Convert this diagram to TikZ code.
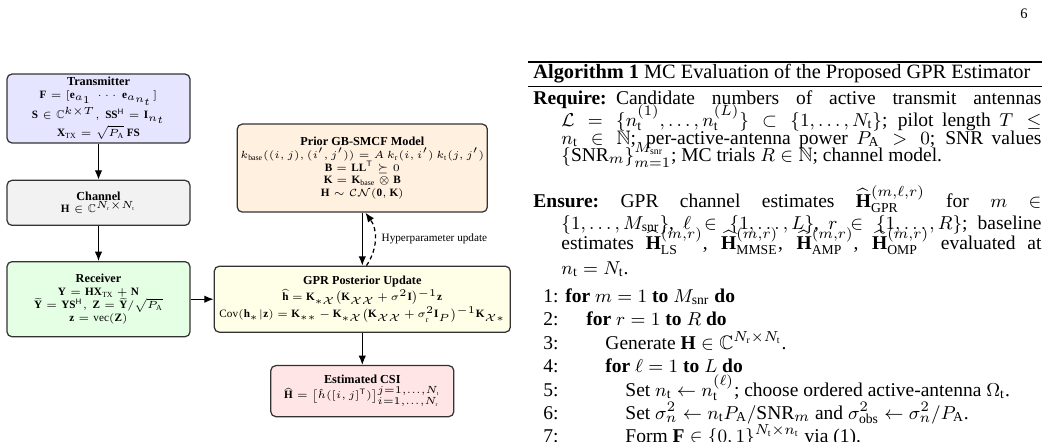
\documentclass[tikz,border=0pt]{standalone}
\usepackage{amsmath}
\usepackage{amssymb}
\usepackage{fontspec}
\setmainfont{Liberation Serif}
\usetikzlibrary{arrows.meta,positioning}

\newcommand{\blocktitle}[1]{{\fontsize{5.9}{6.4}\selectfont\textbf{#1}}}

\begin{document}
\begin{tikzpicture}[x=0.482pt, y=-0.482pt,
  block/.style={draw=black!80, line width=0.6pt, rounded corners=2.4pt, align=center, inner sep=1.5pt, font=\fontsize{5.4}{6.2}\selectfont},
  arrow/.style={-{Latex[length=4.5pt,width=3.6pt]}, line width=0.6pt},
  fbarrow/.style={-{Latex[length=4.5pt,width=3.6pt]}, line width=0.6pt, dash pattern=on 2pt off 1.5pt},
  algtext/.style={anchor=base west, inner sep=0pt, font=\fontsize{9.4}{11}\selectfont}
]
\useasboundingbox (0,0) rectangle (1042,441);
\clip (0,0) rectangle (1042,441);

% system chain
\node[block, fill=blue!10, minimum width=88.2pt, minimum height=32.3pt] (tx) at (98.5,108.5)
  {\blocktitle{Transmitter}\\ $\mathbf{F}=[\mathbf{e}_{a_1}\ \cdots\ \mathbf{e}_{a_{n_t}}]$\\
   $\mathbf{S}\in\mathbb{C}^{k\times T},\ \mathbf{S}\mathbf{S}^{\mathsf{H}}=\mathbf{I}_{n_t}$\\
   $\mathbf{X}_{\mathrm{TX}}=\sqrt{P_{\mathrm{A}}}\,\mathbf{F}\mathbf{S}$};
\node[block, fill=gray!10, minimum width=88.2pt, minimum height=21.7pt, below=17.4pt of tx] (ch)
  {\blocktitle{Channel}\\ $\mathbf{H}\in\mathbb{C}^{N_{\mathrm{r}}\times N_{\mathrm{t}}}$};
\node[block, fill=green!10, minimum width=88.2pt, minimum height=36.2pt, below=16.9pt of ch] (rx)
  {\blocktitle{Receiver}\\ $\mathbf{Y}=\mathbf{H}\mathbf{X}_{\mathrm{TX}}+\mathbf{N}$\\
   $\widetilde{\mathbf{Y}}=\mathbf{Y}\mathbf{S}^{\mathsf{H}},\ \mathbf{Z}=\widetilde{\mathbf{Y}}/\sqrt{P_{\mathrm{A}}}$\\
   $\mathbf{z}=\mathrm{vec}(\mathbf{Z})$};

% GPR part
\node[block, fill=yellow!10, minimum width=142.7pt, minimum height=31.8pt, right=11.1pt of rx,
      execute at begin node={\medmuskip=3mu\thickmuskip=4mu}] (post)
  {\blocktitle{GPR Posterior Update}\\
   $\widehat{\mathbf{h}}=\mathbf{K}_{*\mathcal{X}}\big(\mathbf{K}_{\mathcal{X}\mathcal{X}}+\sigma^2\mathbf{I}\big)^{-1}\mathbf{z}$\\
   $\mathrm{Cov}(\mathbf{h}_*|\mathbf{z})=\mathbf{K}_{**}-\mathbf{K}_{*\mathcal{X}}\big(\mathbf{K}_{\mathcal{X}\mathcal{X}}+\sigma_{\mathrm{r}}^2\mathbf{I}_P\big)^{-1}\mathbf{K}_{\mathcal{X}*}$};
\node[block, fill=orange!12, minimum width=116.2pt, minimum height=42.4pt, above=25.5pt of post] (prior)
  {\blocktitle{Prior GB-SMCF Model}\\
   $k_{\mathrm{base}}((i,j),(i',j'))=A\,k_{\mathrm{r}}(i,i')\,k_{\mathrm{t}}(j,j')$\\
   $\mathbf{B}=\mathbf{L}\mathbf{L}^{\mathsf{T}}\succeq 0$\\
   $\mathbf{K}=\mathbf{K}_{\mathrm{base}}\otimes\mathbf{B}$\\
   $\mathbf{H}\sim\mathcal{CN}(\mathbf{0},\mathbf{K})$};
\node[block, fill=red!10, minimum width=88.2pt, minimum height=24.6pt, below=15.5pt of post] (csi)
  {\blocktitle{Estimated CSI}\\
   $\widehat{\mathbf{H}}=\big[\hat{h}([i,j]^{\mathsf{T}})\big]_{i=1,\dots,N_{\mathrm{r}}}^{j=1,\dots,N_{\mathrm{t}}}$};

\draw[arrow] (tx) -- (ch);
\draw[arrow] (ch) -- (rx);
\draw[arrow] (rx) -- (post);
\draw[arrow] (prior) -- (post);
\draw[arrow] (post) -- (csi);
\draw[fbarrow] ([xshift=2pt]post.north) to[bend right=35]
  node[midway, right=3pt, inner sep=0pt, font=\fontsize{5.4}{6.2}\selectfont] (hyp) {Hyperparameter update}
  ([xshift=1.5pt]prior.south);

% algorithm
\node[anchor=base, inner sep=0pt, font=\fontsize{7}{8}\selectfont] (pg) at (1024,18) {6};
\draw[line width=0.8pt] (528,62) -- (1042,62);
\node[algtext, font=\fontsize{9.8}{11.6}\selectfont] (cap) at (533,78) {\textbf{Algorithm 1} MC Evaluation of the Proposed GPR Estimator};
\draw[line width=0.4pt] (528,86.5) -- (1042,86.5);

\node[algtext] (req1) at (533,104) {\makebox[244.9pt][s]{\textbf{Require:}\hspace{4.5pt}Candidate numbers of active transmit antennas}};
\node[algtext] (req2) at (561,126) {\makebox[231.4pt][s]{$\mathcal{L}=\{n_{\text{t}}^{(1)},\dots,n_{\text{t}}^{(L)}\}\subset\{1,\dots,N_{\text{t}}\}$; pilot length $T\leq$}};
\node[algtext] (req3) at (561,144) {\makebox[231.4pt][s]{$n_{\text{t}}\in\mathbb{N}$; per-active-antenna power $P_{\text{A}}>0$; SNR values}};
\node[algtext] (req4) at (561,161) {$\{\mathrm{SNR}_m\}_{m=1}^{M_{\text{snr}}}$; MC trials $R\in\mathbb{N}$; channel model.};
\node[algtext] (ens1) at (533,207) {\makebox[244.9pt][s]{\textbf{Ensure:}\ GPR channel estimates $\widehat{\mathbf{H}}_{\text{GPR}}^{(m,\ell,r)}$ for $m$ $\in$}};
\node[algtext] (ens2) at (561,229) {\makebox[231.4pt][s]{$\{1,\dots,M_{\text{snr}}\}$, $\ell\in\{1,\dots,L\}$, $r\in\{1,\dots,R\}$; baseline}};
\node[algtext] (ens3) at (561,249) {\makebox[231.4pt][s]{estimates $\widehat{\mathbf{H}}_{\text{LS}}^{(m,r)}$, $\widehat{\mathbf{H}}_{\text{MMSE}}^{(m,r)}$, $\widehat{\mathbf{H}}_{\text{AMP}}^{(m,r)}$, $\widehat{\mathbf{H}}_{\text{OMP}}^{(m,r)}$ evaluated at}};
\node[algtext] (ens4) at (561,274) {$n_{\text{t}}=N_{\text{t}}$.};

\foreach \i/\y in {1/302,2/325,3/349,4/372,5/396,6/419,7/442}
  \node[algtext] (no\i) at (543,\y) {\i:};
\node[algtext] (s1) at (565,302) {\textbf{for} $m=1$ \textbf{to} $M_{\text{snr}}$ \textbf{do}};
\node[algtext] (s2) at (586,325) {\textbf{for} $r=1$ \textbf{to} $R$ \textbf{do}};
\node[algtext] (s3) at (605,349) {Generate $\mathbf{H}\in\mathbb{C}^{N_{\text{r}}\times N_{\text{t}}}$.};
\node[algtext] (s4) at (605,372) {\textbf{for} $\ell=1$ \textbf{to} $L$ \textbf{do}};
\node[algtext] (s5) at (625,396) {Set $n_{\text{t}}\leftarrow n_{\text{t}}^{(\ell)}$; choose ordered active-antenna $\Omega_{\text{t}}$.};
\node[algtext] (s6) at (625,419) {Set $\sigma_n^2\leftarrow n_{\text{t}}P_{\text{A}}/\mathrm{SNR}_m$ and $\sigma_{\text{obs}}^2\leftarrow\sigma_n^2/P_{\text{A}}$.};
\node[algtext] (s7) at (625,442) {Form $\mathbf{F}\in\{0,1\}^{N_{\text{t}}\times n_{\text{t}}}$ via (1).};
\end{tikzpicture}
\end{document}
